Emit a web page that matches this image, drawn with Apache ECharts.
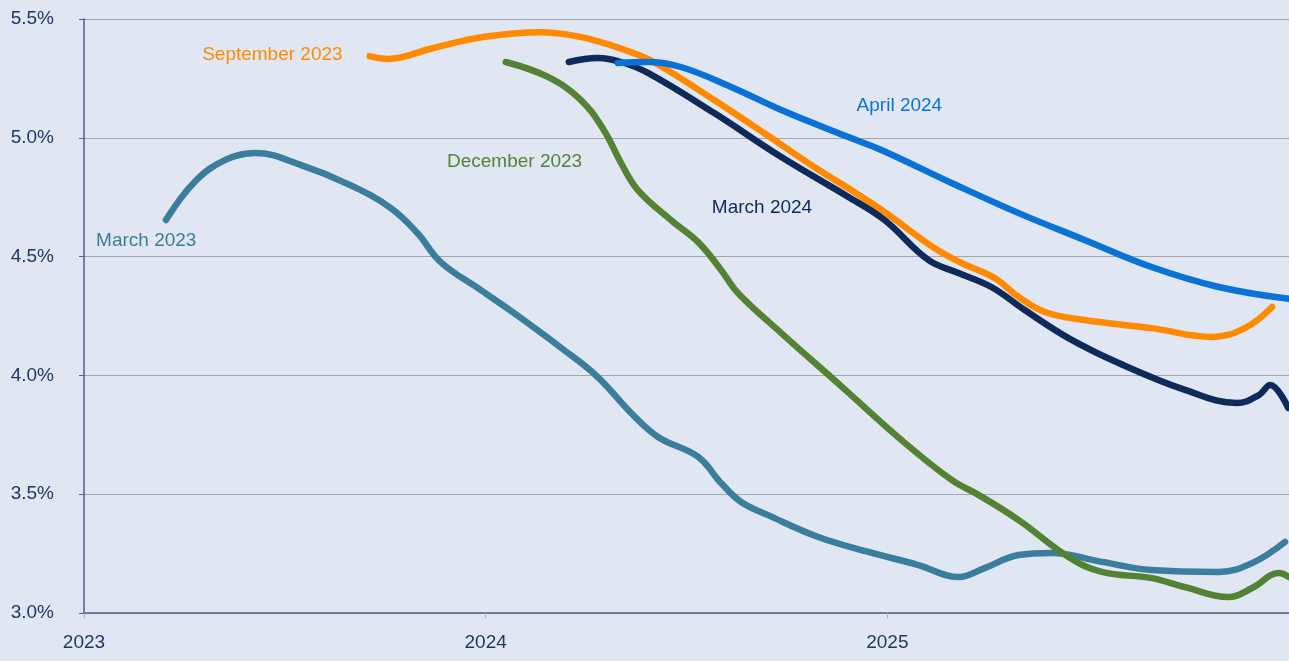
<!DOCTYPE html>
<html>
<head>
    <meta charset="utf-8">
    <title>Rate path projections</title>
    <script src="https://cdn.jsdelivr.net/npm/echarts@6/dist/echarts.min.js"></script>
    <style>
        html, body { margin: 0; padding: 0; background: #e1e7f2; }
    </style>
</head>
<body>
    <div id="chart" style="width: 1289px;height:661px;"></div>

    <script>
        // [year as fraction, rate %]
        const march2023 = [
            [2023.204, 4.654], [2023.277, 4.817], [2023.352, 4.907], [2023.426, 4.936], [2023.539, 4.886],
            [2023.663, 4.801], [2023.763, 4.705], [2023.830, 4.599], [2023.888, 4.477], [2023.988, 4.359],
            [2024.070, 4.263], [2024.195, 4.107], [2024.279, 3.993], [2024.362, 3.842], [2024.429, 3.741],
            [2024.529, 3.657], [2024.586, 3.547], [2024.636, 3.467], [2024.703, 3.412], [2024.828, 3.320],
            [2024.953, 3.257], [2025.077, 3.202], [2025.177, 3.151], [2025.242, 3.189], [2025.327, 3.244],
            [2025.409, 3.253], [2025.534, 3.215], [2025.658, 3.181], [2025.825, 3.173], [2025.908, 3.210],
            [2025.990, 3.299]
        ]
        const september2023 = [
            [2023.711, 5.344], [2023.756, 5.332], [2023.870, 5.378], [2023.993, 5.424], [2024.137, 5.444],
            [2024.212, 5.432], [2024.287, 5.403], [2024.387, 5.344], [2024.444, 5.294], [2024.569, 5.159],
            [2024.693, 5.020], [2024.818, 4.877], [2024.910, 4.780], [2024.993, 4.688], [2025.117, 4.536],
            [2025.185, 4.473], [2025.267, 4.410], [2025.327, 4.330], [2025.392, 4.267], [2025.491, 4.233],
            [2025.658, 4.199], [2025.808, 4.162], [2025.890, 4.199], [2025.958, 4.288]
        ]
        const december2023 = [
            [2024.050, 5.319], [2024.155, 5.256], [2024.237, 5.159], [2024.294, 5.033], [2024.337, 4.894],
            [2024.379, 4.780], [2024.461, 4.654], [2024.529, 4.561], [2024.586, 4.444], [2024.628, 4.347],
            [2024.736, 4.178], [2024.885, 3.955], [2025.035, 3.728], [2025.160, 3.560], [2025.227, 3.497],
            [2025.327, 3.391], [2025.451, 3.236], [2025.534, 3.173], [2025.658, 3.147], [2025.741, 3.109],
            [2025.850, 3.067], [2025.908, 3.105], [2025.975, 3.168], [2026.000, 3.151]
        ]
        const march2024 = [
            [2024.207, 5.319], [2024.279, 5.336], [2024.337, 5.319], [2024.404, 5.273], [2024.569, 5.104],
            [2024.736, 4.919], [2024.903, 4.751], [2024.993, 4.654], [2025.102, 4.486], [2025.177, 4.431],
            [2025.259, 4.372], [2025.342, 4.275], [2025.451, 4.157], [2025.576, 4.052], [2025.741, 3.939],
            [2025.870, 3.884], [2025.925, 3.917], [2025.953, 3.960], [2025.998, 3.863]
        ]
        const april2024 = [
            [2024.329, 5.315], [2024.404, 5.319], [2024.486, 5.298], [2024.611, 5.214], [2024.736, 5.117],
            [2024.903, 5.003], [2024.985, 4.949], [2025.160, 4.810], [2025.327, 4.683], [2025.491, 4.570],
            [2025.658, 4.456], [2025.825, 4.372], [2026.000, 4.322]
        ]

        const names = ['March 2023', 'September 2023', 'December 2023', 'March 2024', 'April 2024']
        const colors = ['#3b7d9c', '#ff8a00', '#548235', '#0d2a5a', '#0872d6']
        // where each name sits, in chart units
        const labelAt = [[2023.155, 4.566], [2023.469, 5.348], [2024.072, 4.898], [2024.688, 4.705], [2025.030, 5.134]]

        const font = 'Liberation Sans, Arial, sans-serif'
        const axisText = { color: '#1f3864', fontSize: 19, fontFamily: font }

        const lines = [march2023, september2023, december2023, march2024, april2024].map((d, i) => ({
            name: names[i],
            type: 'line',
            data: d,
            smooth: 0.4,
            showSymbol: false,
            z: i === 4 ? 3 : 2,
            lineStyle: { color: colors[i], width: 6.5, cap: 'round', join: 'round' },
            markPoint: {
                symbolSize: 0,
                data: [{ coord: labelAt[i], value: names[i] }],
                label: {
                    show: true,
                    position: 'inside',
                    formatter: names[i],
                    color: colors[i],
                    fontSize: 19,
                    fontFamily: font
                }
            }
        }))

        const chart = echarts.init(document.getElementById('chart'))
        chart.setOption({
            backgroundColor: '#e1e7f2',
            animation: false,
            grid: { left: 84, right: 0, top: 19, bottom: 48, outerBoundsMode: 'none' },
            xAxis: {
                type: 'value',
                min: 2023,
                max: 2026,
                interval: 1,
                axisLine: { show: true, lineStyle: { color: '#4c6088', width: 1.5 } },
                axisTick: { show: true, length: 5, lineStyle: { color: '#a9adb8' } },
                axisLabel: { ...axisText, margin: 20, formatter: v => v === 2026 ? '' : String(v) },
                splitLine: { show: false }
            },
            yAxis: {
                type: 'value',
                min: 3,
                max: 5.5,
                interval: 0.5,
                axisLine: { show: true, lineStyle: { color: '#4c6088', width: 1.5 } },
                axisTick: { show: true, length: 5, lineStyle: { color: '#4c6088' } },
                axisLabel: { ...axisText, margin: 30, formatter: v => v.toFixed(1) + '%' },
                splitLine: { show: true, lineStyle: { color: '#a4a6ad', width: 1.2 } }
            },
            series: lines
        })
    </script>
</body>
</html>
